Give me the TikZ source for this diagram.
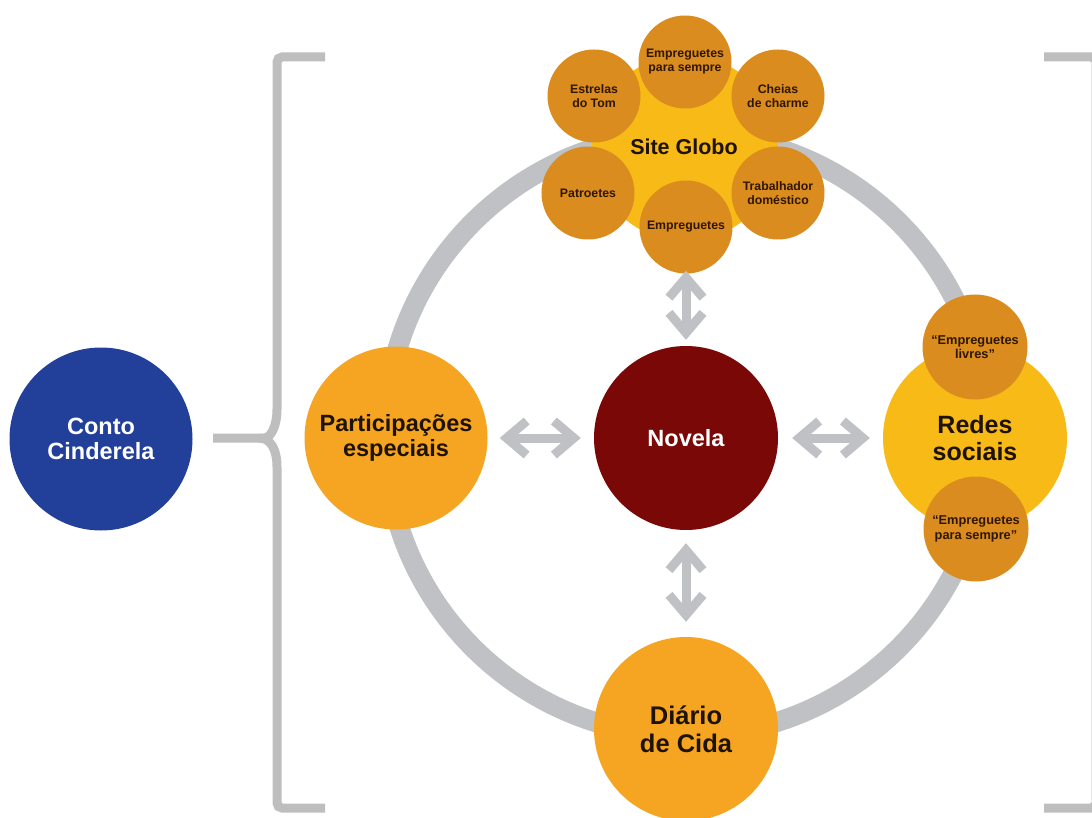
\documentclass[tikz,border=0pt]{standalone}
\usepackage{fontspec}
\setmainfont{Liberation Sans}
\usetikzlibrary{arrows.meta}

\definecolor{cinderblue}{HTML}{22409A}
\definecolor{novelared}{HTML}{7A0806}
\definecolor{mainorange}{HTML}{F5A521}
\definecolor{hubyellow}{HTML}{F8BA16}
\definecolor{petalorange}{HTML}{DA8C1E}
\definecolor{ringgray}{HTML}{BFC1C5}
\definecolor{bracketgray}{HTML}{BEBEBE}
\definecolor{inkdark}{HTML}{1E1200}
\definecolor{petalink}{HTML}{2E1600}

\tikzset{
  bubble/.style={circle, inner sep=0pt, align=center, text=inkdark},
  bigtext/.style={font=\bfseries\fontsize{23.5}{25.5}\selectfont},
  petal/.style={bubble, fill=petalorange, minimum size=93pt, text=petalink,
                font=\bfseries\fontsize{12.3}{14}\selectfont},
  sidepetal/.style={bubble, fill=petalorange, minimum size=105pt, text=petalink,
                font=\bfseries\fontsize{12.8}{14.5}\selectfont},
  ring/.style={draw=ringgray, line width=20pt},
  bracket/.style={draw=bracketgray, line width=9pt, rounded corners=5pt},
  biarrow/.style={draw=ringgray, line width=9pt,
     {Straight Barb[sharp,length=20pt,width=34pt]}-{Straight Barb[sharp,length=20pt,width=34pt]}}
}

\begin{document}
\begin{tikzpicture}[x=1pt,y=-1pt]
\useasboundingbox (0,0) rectangle (1092,818);
\fill[white] (0,0) rectangle (1092,818);

% the grey ring joining the four outer hubs
\draw[ring] (686,435) circle[radius=301pt];

% left curly bracket
\draw[bracket] (325,57) -- (277,57) -- (277,404)
   .. controls (277,426) and (271,438) .. (259,438) -- (213,438);
\draw[bracket] (259,438) .. controls (271,438) and (277,450) .. (277,472)
   -- (277,808) -- (325,808);
% right bracket, its upright running along the edge
\draw[bracket] (1044,57) -- (1096,57) -- (1096,808) -- (1044,808);

% starting tale
\node[bubble, fill=cinderblue, minimum size=183pt, text=white, bigtext]
  (conto) at (101,439) {Conto\\Cinderela};

% central hub and the outer hubs
\node[bubble, fill=novelared, minimum size=184pt, text=white, bigtext]
  (novela) at (686,438) {Novela};
\node[bubble, fill=mainorange, minimum size=183pt, bigtext]
  (part) at (396,438) {Participações\\especiais};
\node[bubble, fill=mainorange, minimum size=184pt,
      font=\bfseries\fontsize{25.5}{28}\selectfont]
  (diario) at (686,729) {Diário\\de Cida};

% Redes sociais with its two pages
\node[bubble, fill=hubyellow, minimum size=184pt,
      font=\bfseries\fontsize{25}{27.5}\selectfont]
  (redes) at (975,438) {Redes\\sociais};
\node[sidepetal] (livres) at (975,347) {``Empreguetes\\livres''};
\node[sidepetal] (sempre2) at (976,529) {``Empreguetes\\para sempre''};

% Site Globo with its six sections
\node[bubble, fill=hubyellow, minimum size=186pt] (globo) at (685,148) {};
\node[petal] (estrelas) at (594,96) {Estrelas\\do Tom};
\node[petal] (cheias) at (778,96) {Cheias\\de charme};
\node[petal] (patro) at (588,193) {Patroetes};
\node[petal] (trab) at (778,193) {Trabalhador\\doméstico};
\node[petal] (sempre1) at (685,62) {Empreguetes\\para sempre};
\node[petal] (emp) at (686,227) {Empreguetes};
\node[font=\bfseries\fontsize{21.5}{24}\selectfont, text=inkdark]
  (globolabel) at (684,147) {Site Globo};

% two-way links with the novela
\draw[biarrow, shorten <=12pt, shorten >=13pt] (part) -- (novela);
\draw[biarrow, shorten <=14pt, shorten >=13pt] (novela) -- (redes);
\draw[biarrow, shorten <=-3pt, shorten >=6pt] (emp.south) -- (novela.north);
\draw[biarrow, shorten <=13pt, shorten >=15pt] (novela.south) -- (diario.north);
\end{tikzpicture}
\end{document}
